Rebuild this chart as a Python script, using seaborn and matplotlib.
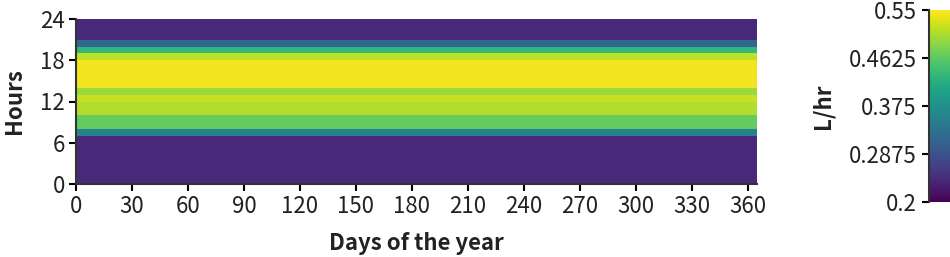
import numpy as np
import matplotlib
matplotlib.use("Agg")
import matplotlib.pyplot as plt
import seaborn as sns

# =========================
# DATA
# =========================
hours = list(range(24))
# flow per hour of the day (L/hr), same every day of the year
hourly_flow = [0.24, 0.24, 0.24, 0.24, 0.24, 0.24, 0.24, 0.357,
               0.466, 0.466, 0.51, 0.51, 0.52, 0.4975,
               0.543, 0.543, 0.543, 0.543, 0.515, 0.43, 0.315,
               0.24, 0.24, 0.24]
n_days = 365
x_ticks = [0, 30, 60, 90, 120, 150, 180, 210, 240, 270, 300, 330, 360]
y_ticks = [0, 6, 12, 18, 24]
cbar_ticks = [0.2, 0.2875, 0.375, 0.4625, 0.55]

grid = np.tile(np.array(hourly_flow)[:, None], (1, n_days))

sns.set_style("white")
plt.rcParams["font.family"] = ["Noto Sans CJK SC", "DejaVu Sans"]
plt.rcParams["text.color"] = "#222222"
plt.rcParams["axes.labelcolor"] = "#222222"
plt.rcParams["xtick.color"] = "#222222"
plt.rcParams["ytick.color"] = "#222222"

# =========================
# HEATMAP
# =========================
fig = plt.figure(figsize=(9.5, 2.57), dpi=100)
ax = fig.add_axes([76 / 950, 73 / 257, 681 / 950, 165 / 257])
cax = fig.add_axes([929 / 950, 55 / 257, 0.04, 192 / 257])

sns.heatmap(grid, ax=ax, cmap="viridis", vmin=0.2, vmax=0.55,
            cbar_ax=cax, cbar_kws={"ticks": cbar_ticks},
            xticklabels=False, yticklabels=False)
ax.invert_yaxis()

ax.set_xticks(x_ticks)
ax.set_xticklabels([str(t) for t in x_ticks], fontsize=16, fontweight="medium")
ax.set_yticks(y_ticks)
ax.set_yticklabels([str(t) for t in y_ticks], fontsize=16, fontweight="medium",
                   rotation=0)
ax.tick_params(axis="both", direction="out", length=5, width=1.5,
               color="black", pad=3, bottom=True, left=True)

for side in ["left", "bottom"]:
    ax.spines[side].set_visible(True)
    ax.spines[side].set_color("#333333")
    ax.spines[side].set_linewidth(1.5)

ax.set_xlabel("Days of the year", fontsize=16, fontweight="bold", labelpad=10)
ax.set_ylabel("Hours", fontsize=16, fontweight="bold", labelpad=10)

# =========================
# COLORBAR
# =========================
cax.yaxis.set_ticks_position("left")
cax.yaxis.set_label_position("left")
cax.set_yticklabels(["0.2", "0.2875", "0.375", "0.4625", "0.55"], fontsize=16,
                    fontweight="medium")
cax.tick_params(axis="y", direction="out", length=5, width=1.5,
                color="black", pad=4)
cax.spines["left"].set_visible(True)
cax.spines["left"].set_color("#333333")
cax.spines["left"].set_linewidth(1.5)
cax.set_ylabel("L/hr", fontsize=16, fontweight="bold", labelpad=10)

plt.savefig("out.png", dpi=100)
